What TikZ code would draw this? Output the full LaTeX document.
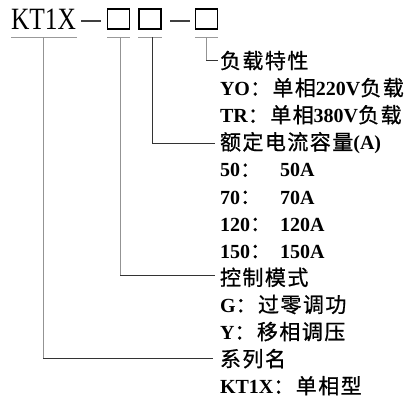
\documentclass[tikz,border=0pt]{standalone}
\usepackage{fontspec}
\setmainfont{Liberation Serif}
\newfontfamily\cjkf{Noto Sans CJK SC}[LetterSpace=7,FakeBold=0.8]
\newfontfamily\latf{Liberation Serif}
\newfontfamily\ktf{Liberation Serif}[FakeStretch=0.82]
\newcommand\C[1]{{\cjkf\fontsize{21}{21}\selectfont #1}}
\newcommand\La[1]{{\latf\bfseries\fontsize{20}{20}\selectfont #1}}
\newcommand\col{\C{：}}
\begin{document}
\begin{tikzpicture}[x=1pt,y=-1pt,
  lbl/.style={anchor=base west, inner sep=0pt, outer sep=0pt},
  codebox/.style={draw=black, line width=1.3pt, minimum width=22pt, minimum height=20pt, inner sep=0pt},
  under/.style={draw=gray!80, line width=1pt},
  vline/.style={draw=gray!85, line width=1pt},
  hline/.style={draw=black!80, line width=1pt},
  dashl/.style={draw=black!75, line width=1.2pt}]
\useasboundingbox (0,0) rectangle (409,400);
% header
\node[lbl] (kt) at (11,29) {\ktf\fontsize{31}{31}\selectfont KT1X};
\node[codebox] (b1) at (118.5,19) {};
\node[codebox] (b2) at (150,19) {};
\node[codebox] (b3) at (206.5,19) {};
\coordinate (d1a) at (81,21); \coordinate (d1b) at (101,21);
\coordinate (d2a) at (170,21); \coordinate (d2b) at (190,21);
\draw[dashl] (d1a) -- (d1b);
\draw[dashl] (d2a) -- (d2b);
% underlines
\coordinate (ukl) at (11,37); \coordinate (ukr) at (77,37);
\coordinate (u1l) at (107,37); \coordinate (u1r) at (130,37);
\coordinate (u2l) at (138,37); \coordinate (u2r) at (162,37);
\coordinate (u3l) at (195,37); \coordinate (u3r) at (218,37);
\draw[under] (ukl) -- (ukr);
\draw[under] (u1l) -- (u1r);
\draw[under] (u2l) -- (u2r);
\draw[under] (u3l) -- (u3r);
% texts
\def\rb#1{68.5+27.1*#1}
\node[lbl] (t0) at (220,{\rb{0}}) {\C{负载特性}};
\node[lbl] (t1) at (220,{\rb{1}}) {\La{YO}\col\C{单相}\La{220V}\C{负载}};
\node[lbl] (t2) at (220,{\rb{2}}) {\La{TR}\col\C{单相}\La{380V}\C{负载}};
\node[lbl] (t3) at (220,{\rb{3}}) {\C{额定电流容量}\La{(A)}};
\node[lbl] (t4) at (220,{\rb{4}}) {\makebox[60pt][l]{\La{50}\col}\La{50A}};
\node[lbl] (t5) at (220,{\rb{5}}) {\makebox[60pt][l]{\La{70}\col}\La{70A}};
\node[lbl] (t6) at (220,{\rb{6}}) {\makebox[60pt][l]{\La{120}\col}\La{120A}};
\node[lbl] (t7) at (220,{\rb{7}}) {\makebox[60pt][l]{\La{150}\col}\La{150A}};
\node[lbl] (t8) at (220,{\rb{8}}) {\C{控制模式}};
\node[lbl] (t9) at (220,{\rb{9}}) {\La{G}\col\C{过零调功}};
\node[lbl] (t10) at (220,{\rb{10}}) {\La{Y}\col\C{移相调压}};
\node[lbl] (t11) at (220,{\rb{11}}) {\C{系列名}};
\node[lbl] (t12) at (220,{\rb{12}}) {\La{KT1X}\col\C{单相型}};
% connectors
\coordinate (c3) at (206,37); \coordinate (c3e) at (218,60);
\draw[vline] (c3) -- (c3 |- c3e);
\draw[hline] (c3 |- c3e) -- (c3e);
\coordinate (c2) at (152,37); \coordinate (c2e) at (215,143);
\draw[hline] (c2) -- (c2 |- c2e) -- (c2e);
\coordinate (c1) at (120,37); \coordinate (c1e) at (215,275);
\draw[vline] (c1) -- (c1 |- c1e);
\draw[hline] (c1 |- c1e) -- (c1e);
\coordinate (ck) at (43,37); \coordinate (cke) at (213,358);
\draw[vline] (ck) -- (ck |- cke);
\draw[hline] (ck |- cke) -- (cke);
\end{tikzpicture}
\end{document}
